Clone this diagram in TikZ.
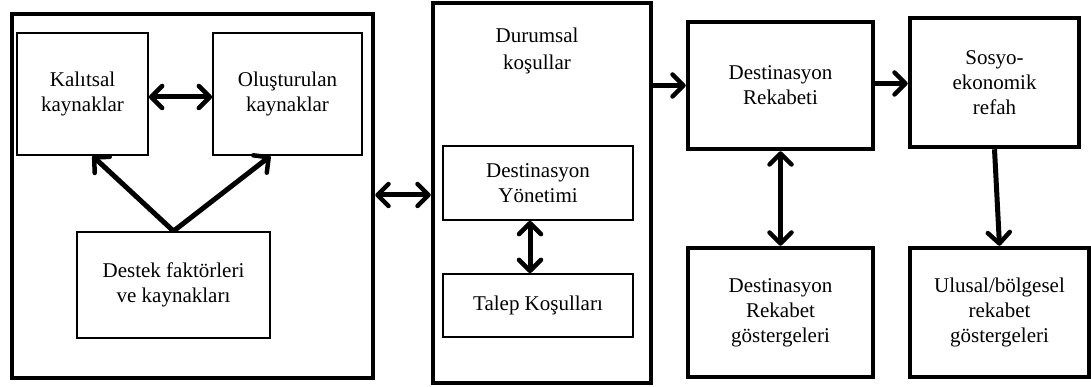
\documentclass[tikz,border=0pt]{standalone}
\usepackage{fontspec}
\setmainfont{Liberation Serif}
\usetikzlibrary{arrows.meta,calc}
\begin{document}
\begin{tikzpicture}[x=1pt,y=-1pt,
  every node/.style={font=\fontsize{21}{25}\selectfont, align=center, inner sep=0pt},
  outerbox/.style={draw, line width=4.5pt},
  innerbox/.style={draw, line width=1.8pt},
  tipbarb/.tip={Straight Barb[length=11pt,width=22pt,line width=4.5pt,round]},
  flow/.style={line width=5pt, -tipbarb},
  both/.style={line width=5pt, tipbarb-tipbarb}
]
\useasboundingbox (0,0) rectangle (1091,387);

% left group: resources
\node[outerbox, minimum width=361pt, minimum height=364pt] (L) at (192.5,196) {};
\node[innerbox, minimum width=131pt, minimum height=122pt] (Kal) at (82.5,94) {Kalıtsal\\kaynaklar};
\node[innerbox, minimum width=149pt, minimum height=122pt] (Olu) at (287.5,94) {Oluşturulan\\kaynaklar};
\node[innerbox, minimum width=193pt, minimum height=106pt] (Des) at (173.5,285) {Destek faktörleri\\ve kaynakları};

% middle group: situational conditions
\node[outerbox, minimum width=218pt, minimum height=380pt] (M) at (542,193) {};
\node[font=\fontsize{21}{27}\selectfont] (Dur) at (537,51) {Durumsal\\koşullar};
\node[innerbox, minimum width=190pt, minimum height=74pt] (DY) at (538,183) {Destinasyon\\Yönetimi};
\node[innerbox, minimum width=190pt, minimum height=63pt] (TK) at (538,305.5) {Talep Koşulları};

% right group: competitiveness and outcomes
\node[outerbox, minimum width=185pt, minimum height=127pt] (DR) at (780.5,85.5) {Destinasyon\\Rekabeti};
\node[outerbox, minimum width=169pt, minimum height=129pt] (SE) at (994.5,82.5) {Sosyo-\\ekonomik\\refah};
\node[outerbox, minimum width=185pt, minimum height=129pt] (DRG) at (780.5,312.5) {Destinasyon\\Rekabet\\göstergeleri};
\node[outerbox, minimum width=179pt, minimum height=129pt] (UL) at (999.5,312.5) {Ulusal/bölgesel\\rekabet\\göstergeleri};

% connectors
\draw[both] ($(Kal.east)+(0,3)$) -- ($(Olu.west)+(0,3)$);
\draw[flow] (Des.north) -- ($(Kal.south)+(10,0)$);
\draw[flow] (Des.north) -- ($(Olu.south)+(-17,0)$);
\draw[both] ($(L.east)+(0,-1)$) -- ($(L.east -| M.west)+(0,-1)$);
\draw[both] ($(DY.south)+(-8,0)$) -- ($(TK.north)+(-8,0)$);
\draw[flow] (M.east |- DR.west) -- (DR.west);
\draw[flow] ($(DR.east)+(0,-2)$) -- ($(DR.east -| SE.west)+(0,-2)$);
\draw[both] (DR.south) -- (DRG.north);
\draw[flow] (SE.south) -- (UL.north);
\end{tikzpicture}
\end{document}
